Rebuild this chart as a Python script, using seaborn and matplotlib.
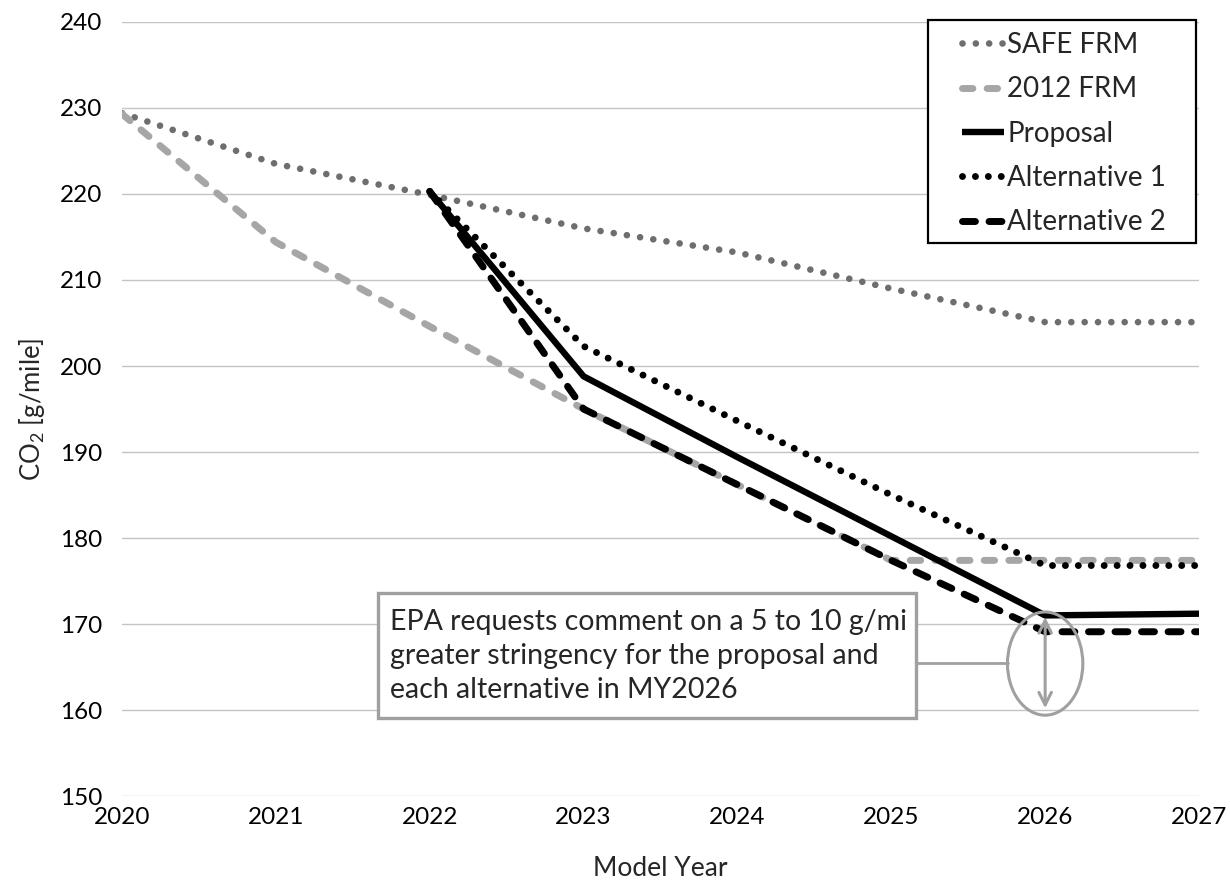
import numpy as np
import pandas as pd
import matplotlib
matplotlib.use("Agg")
import matplotlib.pyplot as plt
from matplotlib.patches import Ellipse, Rectangle
import seaborn as sns

# ---------------- data ----------------
years = [2020, 2021, 2022, 2023, 2024, 2025, 2026, 2027]
safe_frm = [229.4, 223.5, 219.9, 216.0, 213.2, 209.0, 205.1, 205.1]
frm_2012 = [229.3, 214.4, 204.6, 195.0, 186.2, 177.4, 177.4, 177.4]
prop_years = [2022, 2023, 2024, 2025, 2026, 2027]
proposal = [220.3, 198.8, 189.4, 180.2, 171.0, 171.2]
alt1 = [220.3, 202.3, 193.6, 185.0, 176.8, 176.8]
alt2 = [220.3, 195.0, 186.2, 177.4, 169.1, 169.1]

series_names = ["SAFE FRM", "2012 FRM", "Proposal", "Alternative 1", "Alternative 2"]
y_ticks = [150, 160, 170, 180, 190, 200, 210, 220, 230, 240]
x_label = "Model Year"
y_label = "CO$_2$ [g/mile]"
note_lines = ["EPA requests comment on a 5 to 10 g/mi",
              "greater stringency for the proposal and",
              "each alternative in MY2026"]

# ---------------- style ----------------
sns.set_style("white")
plt.rcParams["font.family"] = ["Lato", "DejaVu Sans"]
plt.rcParams["mathtext.default"] = "regular"

fig = plt.figure(figsize=(12.3, 8.83), dpi=100)
ax = fig.add_axes([0.0992, 0.0985, 0.8756, 0.8766])

styles = [
    dict(color="#6e6e6e", lw=4.8, linestyle=(0, (0.001, 2.0)), dash_capstyle="round"),
    dict(color="#a6a6a6", lw=5.0, linestyle=(0, (1.5, 2.05)), dash_capstyle="round"),
    dict(color="black", lw=4.6, linestyle="-", solid_capstyle="butt"),
    dict(color="black", lw=5.0, linestyle=(0, (0.001, 1.86)), dash_capstyle="round"),
    dict(color="black", lw=5.0, linestyle=(0, (1.86, 1.96)), dash_capstyle="round"),
]
data = [(years, safe_frm), (years, frm_2012), (prop_years, proposal),
        (prop_years, alt1), (prop_years, alt2)]

for (xs, ys), name, st in zip(data, series_names, styles):
    df = pd.DataFrame({"year": xs, "co2": ys})
    sns.lineplot(data=df, x="year", y="co2", ax=ax, label=name, **st)

ax.set_xlim(2020, 2027)
ax.set_ylim(150, 240)
ax.set_yticks(y_ticks)
ax.set_xticks(years)
ax.set_xticklabels([str(y) for y in years])
ax.yaxis.grid(True, color="#c4c4c4", lw=1.0)
ax.xaxis.grid(False)
for s in ax.spines.values():
    s.set_visible(False)
ax.tick_params(axis="both", length=0, labelsize=17.5, colors="black")
ax.tick_params(axis="y", pad=14)
ax.tick_params(axis="x", pad=8)
ax.set_xlabel(x_label, fontsize=19)
ax.set_ylabel(y_label, fontsize=18.5)
ax.xaxis.set_label_coords(0.5, -0.078)
ax.yaxis.set_label_coords(-0.07, 0.5)

# legend: custom frame + frameless legend
ax.add_patch(Rectangle((0.7484, 0.7145), 0.9972 - 0.7484, 1.0026 - 0.7145,
                       transform=ax.transAxes, facecolor="white", edgecolor="black",
                       lw=1.6, zorder=8, clip_on=False))
leg = ax.legend(loc="upper left", bbox_to_anchor=(0.780, 0.987), borderaxespad=0,
                fontsize=20, frameon=False, handlelength=1.5,
                handletextpad=0.12, labelspacing=0.66, borderpad=0)
leg.set_zorder(9)

# ---------------- annotation ----------------
gray = "#a0a0a0"
box = Rectangle((2021.664, 159.07), 2025.16 - 2021.664, 173.6 - 159.07,
                facecolor="white", edgecolor=gray, lw=2.4, zorder=5)
ax.add_patch(box)
ax.text(2021.74, 166.3, "\n".join(note_lines), fontsize=20.5, ha="left", va="center",
        linespacing=1.38, zorder=6)
ax.plot([2025.16, 2025.76], [165.5, 165.5], color=gray, lw=2.0, zorder=5)
ax.add_patch(Ellipse((2026.0, 165.4), 0.49, 12.0, facecolor="none", edgecolor=gray,
                     lw=2.2, zorder=7))
ax.annotate("", xy=(2026.0, 160.2), xytext=(2026.0, 170.8),
            arrowprops=dict(arrowstyle="<->,head_length=0.9,head_width=0.45",
                            color=gray, lw=2.2, shrinkA=0, shrinkB=0), zorder=7)

fig.savefig("out.png", dpi=100)
